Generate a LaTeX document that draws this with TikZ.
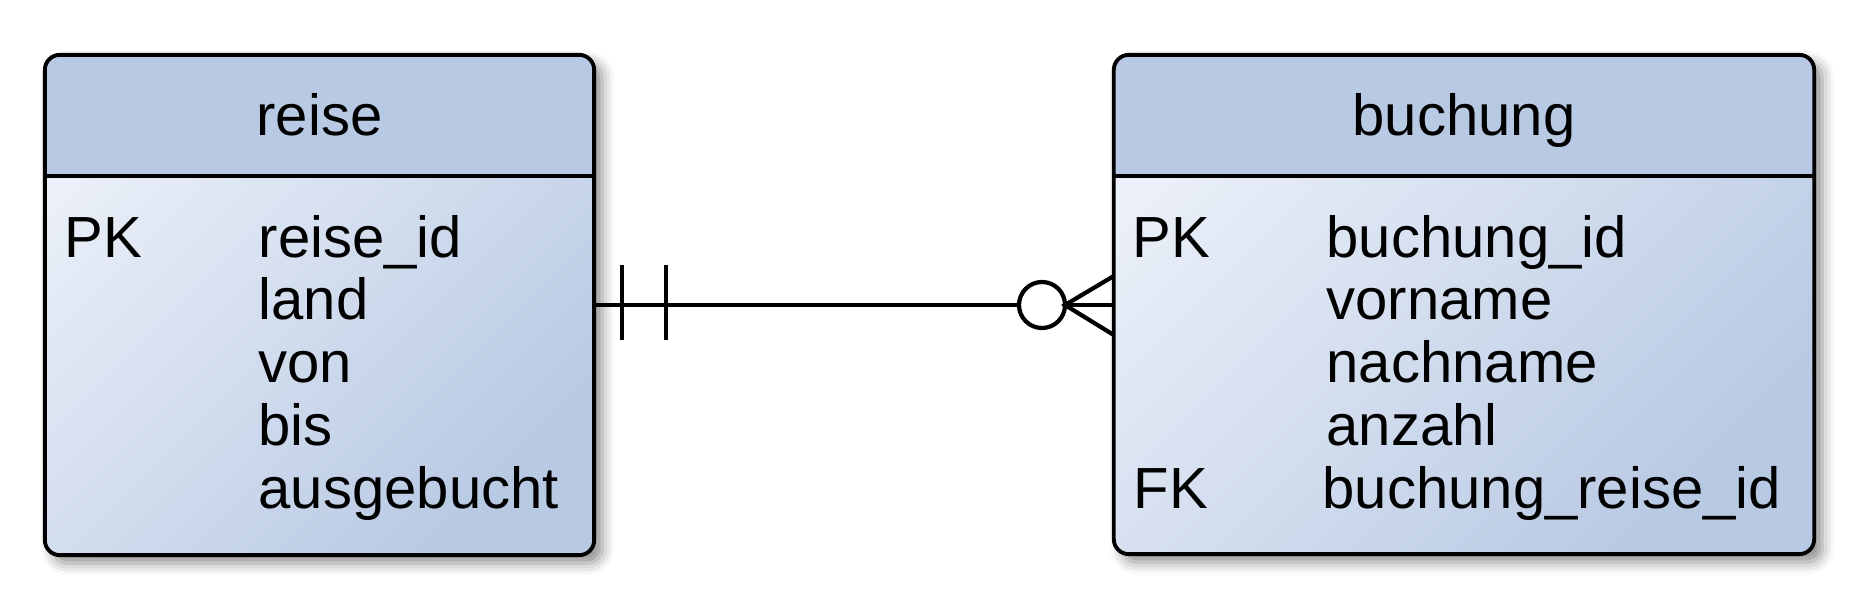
\documentclass[tikz,border=0pt]{standalone}
\usepackage{fontspec}
\setmainfont{Liberation Sans}
\usetikzlibrary{positioning, shadows.blur}
\definecolor{HeadBlue}{RGB}{184,201,227}
\definecolor{BodyLight}{RGB}{234,239,248}
\definecolor{BodyDark}{RGB}{184,201,227}

\begin{document}
\begin{tikzpicture}[
    x=0.01cm, y=-0.01cm,
    font=\fontsize{16.5}{19}\selectfont,
    entity/.style = {rectangle, outer sep=0pt, inner sep=0pt, rounded corners=0.15cm,
        shading=axis, top color=BodyLight, bottom color=BodyDark, shading angle=45,
        blur shadow={shadow xshift=0.08cm, shadow yshift=-0.08cm, shadow blur radius=0.12cm, shadow opacity=45}},
    frame/.style = {draw=black, line width=1.1pt, rounded corners=0.15cm},
    title/.style = {anchor=base, inner sep=0pt},
    attr/.style = {anchor=base west, inner sep=0pt},
    rel/.style = {draw=black, line width=1.2pt}
]
% Fix the page to the reference size
\useasboundingbox (0,0) rectangle (1867,615);
% Entities
\node[entity, minimum width=5.49cm, minimum height=5cm] (reise) at (319.5,305) {};
\node[entity, minimum width=7cm, minimum height=4.99cm] (buchung) at (1464,304.5) {};
% Header band, frame and separator
\foreach \e in {reise, buchung} {
    \begin{scope}
        \clip[rounded corners=0.15cm] (\e.north west) rectangle (\e.south east);
        \fill[HeadBlue] (\e.north west) rectangle (\e.east |- 0,176);
    \end{scope}
    \draw[frame] (\e.north west) rectangle (\e.south east);
    \draw[line width=1.1pt] (\e.west |- 0,176) -- (\e.east |- 0,176);
}
% Titles
\node[title] (reise-title) at (319.5,135) {reise};
\node[title] (buchung-title) at (1464,135) {buchung};
% Attributes of reise
\node[attr] (reise-pk) at (64,257) {PK};
\foreach \t [count=\i from 0] in {reise\_id, land, von, bis, ausgebucht}
    \node[attr] (reise-a\i) at (258,257+62.75*\i) {\t};
% Attributes of buchung
\node[attr] (buchung-pk) at (1132,257) {PK};
\node[attr] (buchung-fk) at (1133,508) {FK};
\foreach \t [count=\i from 0] in {buchung\_id, vorname, nachname, anzahl}
    \node[attr] (buchung-a\i) at (1326,257+62.75*\i) {\t};
\node[attr] (buchung-a4) at (1322,508) {buchung\_reise\_id};
% Relationship: exactly one to zero or many
\coordinate (link-a) at (reise.east |- 0,305);
\coordinate (link-b) at (buchung.west |- 0,305);
\draw[rel] (link-a) -- (link-b);
\draw[rel] (link-a) ++(28,-40) -- ++(0,75);
\draw[rel] (link-a) ++(72,-40) -- ++(0,75);
\node[circle, rel, fill=white, minimum size=0.46cm, inner sep=0pt, outer sep=0pt] (opt) at (1042,305) {};
\draw[rel] ([yshift=0.29cm]link-b) -- (opt.east) -- ([yshift=-0.3cm]link-b);
\end{tikzpicture}
\end{document}
